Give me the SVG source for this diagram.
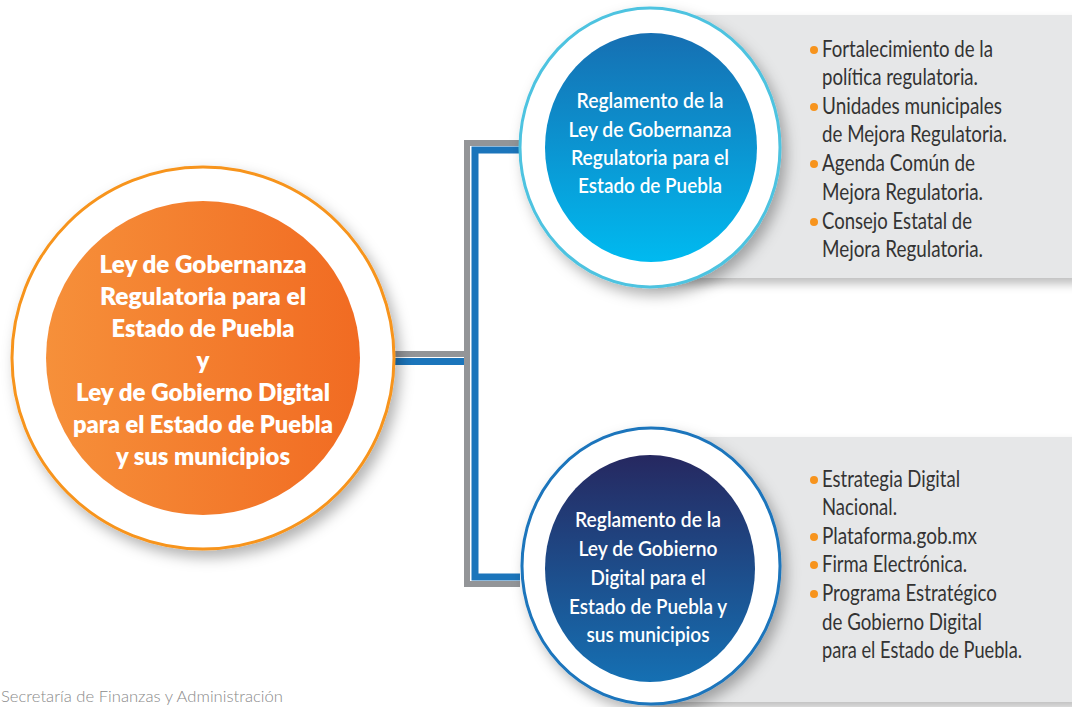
<svg xmlns="http://www.w3.org/2000/svg" width="1072" height="707" viewBox="0 0 1072 707">
<defs>
<linearGradient id="gOrange" x1="0" y1="0" x2="1" y2="0">
<stop offset="0" stop-color="#f6903a"/>
<stop offset="1" stop-color="#f16b22"/>
</linearGradient>
<linearGradient id="gCyan" x1="0" y1="0" x2="0" y2="1">
<stop offset="0" stop-color="#166fb2"/>
<stop offset="1" stop-color="#00baf0"/>
</linearGradient>
<linearGradient id="gNavy" x1="0" y1="0" x2="0" y2="1">
<stop offset="0" stop-color="#262860"/>
<stop offset="1" stop-color="#1570b3"/>
</linearGradient>
<filter id="shadow" x="-20%" y="-20%" width="150%" height="150%">
<feDropShadow dx="5" dy="7" stdDeviation="7" flood-color="#000" flood-opacity="0.3"/>
</filter>
<filter id="pshadow" x="-10%" y="-10%" width="130%" height="130%">
<feDropShadow dx="0" dy="6" stdDeviation="5" flood-color="#000" flood-opacity="0.25"/>
</filter>
</defs>
<style>
.main{font-family:"Lato","Open Sans",sans-serif;font-weight:800;font-size:24px;fill:#fff;text-anchor:middle}
.sub{font-family:"Lato","Open Sans",sans-serif;font-weight:600;font-size:21px;fill:#fff;text-anchor:middle}
.item{font-family:"Lato","Open Sans",sans-serif;font-weight:400;font-size:22.5px;fill:#333}
.dot{fill:#f7941d}
.panel{fill:#e6e7e8}
.foot{font-family:"Lato","Open Sans",sans-serif;font-weight:300;font-size:15px;fill:#8a8a8a}
</style>

<g id="panel-top"><rect class="panel" x="650" y="15" width="430" height="263" filter="url(#pshadow)"/></g>
<g id="panel-bottom"><rect class="panel" x="650" y="437" width="430" height="265" filter="url(#pshadow)"/></g>

<g id="connectors" fill="none">
<path d="M395 354 H467 M520 143 H467 V584 H520" stroke="#939598" stroke-width="6"/>
<path d="M395 361.5 H464 M520 150 H475 V577 H520" stroke="#1b75bb" stroke-width="7"/>
</g>

<g id="node-main">
<circle cx="203" cy="358" r="191" fill="#fff" stroke="#f7941d" stroke-width="3" filter="url(#shadow)"/>
<circle cx="203" cy="358" r="157" fill="url(#gOrange)"/>
<text class="main" x="203" y="273" textLength="207" lengthAdjust="spacingAndGlyphs">Ley de Gobernanza</text>
<text class="main" x="203" y="305" textLength="206" lengthAdjust="spacingAndGlyphs">Regulatoria para el</text>
<text class="main" x="203" y="337" textLength="183" lengthAdjust="spacingAndGlyphs">Estado de Puebla</text>
<text class="main" x="203" y="369">y</text>
<text class="main" x="203" y="401" textLength="254" lengthAdjust="spacingAndGlyphs">Ley de Gobierno Digital</text>
<text class="main" x="203" y="433" textLength="260" lengthAdjust="spacingAndGlyphs">para el Estado de Puebla</text>
<text class="main" x="203" y="465" textLength="174" lengthAdjust="spacingAndGlyphs">y sus municipios</text>
</g>

<g id="node-top">
<ellipse cx="650" cy="147.5" rx="130" ry="139.5" fill="#fff" stroke="#4ec3e0" stroke-width="3" filter="url(#shadow)"/>
<ellipse cx="651" cy="147.5" rx="106" ry="114.5" fill="url(#gCyan)"/>
<text class="sub" x="650" y="108" textLength="147" lengthAdjust="spacingAndGlyphs">Reglamento de la</text>
<text class="sub" x="650" y="137" textLength="163" lengthAdjust="spacingAndGlyphs">Ley de Gobernanza</text>
<text class="sub" x="650" y="165" textLength="158" lengthAdjust="spacingAndGlyphs">Regulatoria para el</text>
<text class="sub" x="650" y="193" textLength="144" lengthAdjust="spacingAndGlyphs">Estado de Puebla</text>
</g>

<g id="node-bottom">
<ellipse cx="651" cy="566" rx="129" ry="138" fill="#fff" stroke="#1b75bc" stroke-width="3" filter="url(#shadow)"/>
<ellipse cx="650" cy="568.5" rx="105" ry="113.5" fill="url(#gNavy)"/>
<text class="sub" x="648" y="527" textLength="146" lengthAdjust="spacingAndGlyphs">Reglamento de la</text>
<text class="sub" x="648" y="556" textLength="139" lengthAdjust="spacingAndGlyphs">Ley de Gobierno</text>
<text class="sub" x="648" y="585" textLength="115" lengthAdjust="spacingAndGlyphs">Digital para el</text>
<text class="sub" x="648" y="614" textLength="158" lengthAdjust="spacingAndGlyphs">Estado de Puebla y</text>
<text class="sub" x="648" y="642" textLength="123" lengthAdjust="spacingAndGlyphs">sus municipios</text>
</g>

<g id="list-top">
<circle class="dot" cx="814" cy="50" r="4"/>
<text class="item" x="822" y="57" textLength="171" lengthAdjust="spacingAndGlyphs">Fortalecimiento de la</text>
<text class="item" x="822" y="85" textLength="156" lengthAdjust="spacingAndGlyphs">política regulatoria.</text>
<circle class="dot" cx="814" cy="107" r="4"/>
<text class="item" x="822" y="114" textLength="180" lengthAdjust="spacingAndGlyphs">Unidades municipales</text>
<text class="item" x="822" y="142" textLength="185" lengthAdjust="spacingAndGlyphs">de Mejora Regulatoria.</text>
<circle class="dot" cx="814" cy="164" r="4"/>
<text class="item" x="822" y="171" textLength="153" lengthAdjust="spacingAndGlyphs">Agenda Común de</text>
<text class="item" x="822" y="200" textLength="161" lengthAdjust="spacingAndGlyphs">Mejora Regulatoria.</text>
<circle class="dot" cx="814" cy="222" r="4"/>
<text class="item" x="822" y="229" textLength="150" lengthAdjust="spacingAndGlyphs">Consejo Estatal de</text>
<text class="item" x="822" y="257" textLength="161" lengthAdjust="spacingAndGlyphs">Mejora Regulatoria.</text>
</g>

<g id="list-bottom">
<circle class="dot" cx="814" cy="480" r="4"/>
<text class="item" x="822" y="487" textLength="138" lengthAdjust="spacingAndGlyphs">Estrategia Digital</text>
<text class="item" x="822" y="515" textLength="75" lengthAdjust="spacingAndGlyphs">Nacional.</text>
<circle class="dot" cx="814" cy="537" r="4"/>
<text class="item" x="822" y="544" textLength="155" lengthAdjust="spacingAndGlyphs">Plataforma.gob.mx</text>
<circle class="dot" cx="814" cy="565" r="4"/>
<text class="item" x="822" y="572" textLength="145" lengthAdjust="spacingAndGlyphs">Firma Electrónica.</text>
<circle class="dot" cx="814" cy="594" r="4"/>
<text class="item" x="822" y="601" textLength="175" lengthAdjust="spacingAndGlyphs">Programa Estratégico</text>
<text class="item" x="822" y="630" textLength="160" lengthAdjust="spacingAndGlyphs">de Gobierno Digital</text>
<text class="item" x="822" y="658" textLength="200" lengthAdjust="spacingAndGlyphs">para el Estado de Puebla.</text>
</g>

<text class="foot" x="1" y="702" textLength="282" lengthAdjust="spacingAndGlyphs">Secretaría de Finanzas y Administración</text>
</svg>
